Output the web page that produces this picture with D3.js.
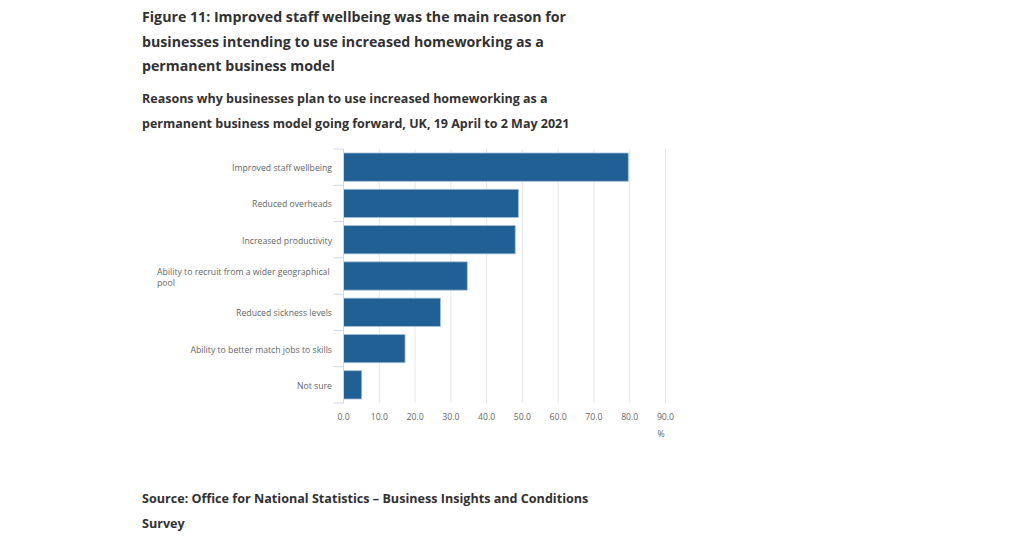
<!DOCTYPE html>
<html><head><meta charset="utf-8">
<script src="https://cdn.jsdelivr.net/npm/d3@7"></script>
<style>
body{margin:0;background:#fff;}
svg text{font-family:"Open Sans",sans-serif;}
</style></head>
<body><svg id="c" width="1024" height="541"></svg>
<script>
const titleLines = ["Figure 11: Improved staff wellbeing was the main reason for","businesses intending to use increased homeworking as a","permanent business model"];
const subtitleLines = ["Reasons why businesses plan to use increased homeworking as a","permanent business model going forward, UK, 19 April to 2 May 2021"];
const sourceLines = ["Source: Office for National Statistics \u2013 Business Insights and Conditions","Survey"];
const categories = ["Improved staff wellbeing","Reduced overheads","Increased productivity","Ability to recruit from a wider geographical pool","Reduced sickness levels","Ability to better match jobs to skills","Not sure"];
const categoryLabelLines = [["Improved staff wellbeing"],["Reduced overheads"],["Increased productivity"],["Ability to recruit from a wider geographical","pool"],["Reduced sickness levels"],["Ability to better match jobs to skills"],["Not sure"]];
const values = [79.6, 48.9, 48.0, 34.6, 27.1, 17.2, 5.1];
const xTicks = [0,10,20,30,40,50,60,70,80,90];
const xUnit = "%";

const svg = d3.select("#c");
const dark = "#323132";

svg.append("g").selectAll("text").data(titleLines).join("text")
  .attr("x",142).attr("y",(d,i)=>22+i*24.5)
  .attr("font-size",14.2).attr("font-weight",700).attr("fill",dark).text(d=>d);
svg.append("g").selectAll("text").data(subtitleLines).join("text")
  .attr("x",142).attr("y",(d,i)=>103+i*24.5)
  .attr("font-size",12.5).attr("font-weight",700).attr("fill",dark).text(d=>d);
svg.append("g").selectAll("text").data(sourceLines).join("text")
  .attr("x",142).attr("y",(d,i)=>503+i*25)
  .attr("font-size",12.6).attr("font-weight",700).attr("fill",dark).text(d=>d);

const x = d3.scaleLinear().domain([0,90]).range([343.5,665.5]);
const y = d3.scaleBand().domain(categories).range([149,403]).paddingInner(0.22).paddingOuter(0.11);

// gridlines
svg.append("g").selectAll("line").data(xTicks.slice(1)).join("line")
  .attr("x1",d=>x(d)).attr("x2",d=>x(d)).attr("y1",149).attr("y2",403)
  .attr("stroke","#e6e6e6").attr("stroke-width",1);

// bars
svg.append("g").selectAll("rect").data(values).join("rect")
  .attr("x",x(0)).attr("y",(d,i)=>y(categories[i]))
  .attr("width",d=>x(d)-x(0)).attr("height",y.bandwidth())
  .attr("fill","#206095").attr("stroke","#a6c0d6").attr("stroke-width",0.8);

// left axis line and band ticks
const axisG = svg.append("g");
axisG.append("line").attr("x1",343.5).attr("x2",343.5).attr("y1",149).attr("y2",403).attr("stroke","#ccd6eb");
const bounds = d3.range(categories.length+1).map(i=>149+i*(254/categories.length));
axisG.selectAll("line.t").data(bounds).join("line").attr("class","t")
  .attr("x1",333.5).attr("x2",343.5).attr("y1",d=>d).attr("y2",d=>d)
  .attr("stroke","#ccd6eb");

// category labels
categoryLabelLines.forEach((lines,i)=>{
  const cy = y(categories[i]) + y.bandwidth()/2;
  if(lines.length===1){
    svg.append("text").attr("x",332).attr("y",cy+4).attr("text-anchor","end")
      .attr("font-size",8.7).attr("fill","#666").text(lines[0]);
  } else {
    const t = svg.append("text").attr("font-size",8.7).attr("fill","#666");
    lines.forEach((l,j)=>t.append("tspan").attr("x",157).attr("y",cy-1.5+j*11.5).text(l));
  }
});

// x tick labels
svg.append("g").selectAll("text").data(xTicks).join("text")
  .attr("x",d=>x(d)).attr("y",420).attr("text-anchor","middle")
  .attr("font-size",8.7).attr("fill","#666").text(d=>d.toFixed(1));
svg.append("text").attr("x",661).attr("y",437).attr("text-anchor","middle")
  .attr("font-size",8.7).attr("fill","#666").text(xUnit);
</script></body></html>
